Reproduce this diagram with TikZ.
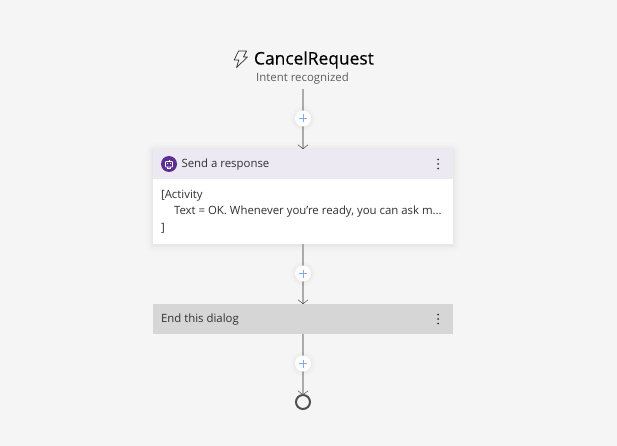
\documentclass[tikz,border=0pt]{standalone}
\usepackage{fontspec}
\setmainfont{Open Sans}
\newfontfamily\titlefont[FakeBold=0.25]{Open Sans}
\usetikzlibrary{arrows.meta,shapes.geometric}
\definecolor{bgc}{HTML}{F5F5F5}
\definecolor{linec}{HTML}{ABABAB}
\definecolor{headc}{HTML}{ECE9F3}
\definecolor{endc}{HTML}{D6D6D6}
\definecolor{purp}{HTML}{5C2E91}
\definecolor{txt}{HTML}{323130}
\definecolor{sub}{HTML}{605E5C}
\definecolor{plusc}{HTML}{7FABF0}
\tikzset{
  x=1pt,y=-1pt,
  every node/.style={inner sep=0pt,outer sep=0pt,text=txt},
  conn/.style={draw=linec,line width=1.6pt,
    -{Straight Barb[color=txt,line width=0.4pt,length=4pt,width=10pt,round]}},
  plusbtn/.style={circle,fill=white,minimum size=16pt},
  cardhead/.style={minimum width=300pt,minimum height=30pt,anchor=north west},
  lbl/.style={font=\fontsize{11.4}{14}\selectfont,anchor=west},
}
\newcommand{\softshadow}[4]{% x1 y1 x2 y2
  \foreach \g/\o in {7/.006,5/.008,3.5/.01,2/.012,1/.014}{
    \fill[black,opacity=\o,rounded corners=\g pt] (#1-\g,#2-\g+1) rectangle (#3+\g,#4+\g+1);
  }}
\newcommand{\plusglyph}[1]{%
  \draw[plusc,line width=.8pt] ([xshift=-4pt]#1.center) -- ([xshift=4pt]#1.center);
  \draw[plusc,line width=.8pt] ([yshift=-4pt]#1.center) -- ([yshift=4pt]#1.center);}
\newcommand{\plusshadow}[2]{%
  \foreach \r/\o in {13/.005,12/.006,11/.007,10/.008,9/.009,8.5/.01}{
    \fill[black,opacity=\o] (#1,#2+.5) circle (\r pt);}}
\newcommand{\kebab}[2]{%
  \foreach \d in {-4.5,0,4.5}{\fill[txt] (#1,#2+\d) circle (1pt);}}
\begin{document}
\begin{tikzpicture}
\useasboundingbox (0,0) rectangle (617,446);
\fill[bgc] (0,0) rectangle (617,446);

% card shadow and end dialog
\softshadow{153}{149}{453}{244}
\node[cardhead,fill=headc] (sendhead) at (153,149) {};
\node[anchor=north west,fill=white,minimum width=300pt,minimum height=65pt] (sendbody) at (153,179) {};
\node[cardhead,fill=endc] (endhead) at (153,304) {};

% title
\node[anchor=west,font=\titlefont\fontsize{17.4}{20}\selectfont,text=black] (title) at (254,60) {CancelRequest};
\node[anchor=center,font=\fontsize{11.4}{14}\selectfont,text=sub] (intent) at (302.5,79) {Intent recognized};
\draw[txt,line width=.7pt,line join=round]
  (238.5,51) -- (246.5,51) -- (243.5,57) -- (247.5,57) -- (236.5,67.5) -- (238.8,60) -- (234.2,60) -- cycle;

% terminal
\node[circle,draw=txt!85,line width=2pt,fill=none,minimum size=14pt] (stop) at (303,402) {};

% button positions
\coordinate (p1) at (303,118.5);
\coordinate (p2) at (303,273.5);
\coordinate (p3) at (303,363.5);
\coordinate (a) at (303,89);

% connectors
\draw[conn] (a) -- (sendhead.north);
\draw[conn] (sendbody.south) -- (endhead.north);
\draw[conn] (endhead.south) -- (stop.north);

% plus buttons
\plusshadow{303}{118.5}\plusshadow{303}{273.5}\plusshadow{303}{363.5}
\node[plusbtn] (b1) at (p1) {};
\node[plusbtn] (b2) at (p2) {};
\node[plusbtn] (b3) at (p3) {};
\plusglyph{b1}\plusglyph{b2}\plusglyph{b3}

% send header content
\fill[purp] (169,164) circle (8pt);
\draw[white,line width=.6pt,rounded corners=.6pt] (165.5,161.5) rectangle (172.5,167);
\draw[white,line width=.6pt] (169,161.5) -- (169,160);
\draw[white,line width=.6pt] (167.5,167) -- (167.5,168.5) -- (170.5,168.5) -- (170.5,167);
\fill[white] (167.6,163.6) circle (.55pt) (170.4,163.6) circle (.55pt);
\node[lbl] (sendlbl) at (181.5,165) {Send a response};
\kebab{438}{164}

% body text
\node[lbl] (l1) at (161,196) {[Activity};
\node[lbl] (l2) at (174,212) {Text = OK. Whenever you're ready, you can ask m...};
\node[lbl] (l3) at (161,228) {]};

% end dialog content
\node[lbl] (endlbl) at (161,320) {End this dialog};
\kebab{438}{319}
\end{tikzpicture}
\end{document}
